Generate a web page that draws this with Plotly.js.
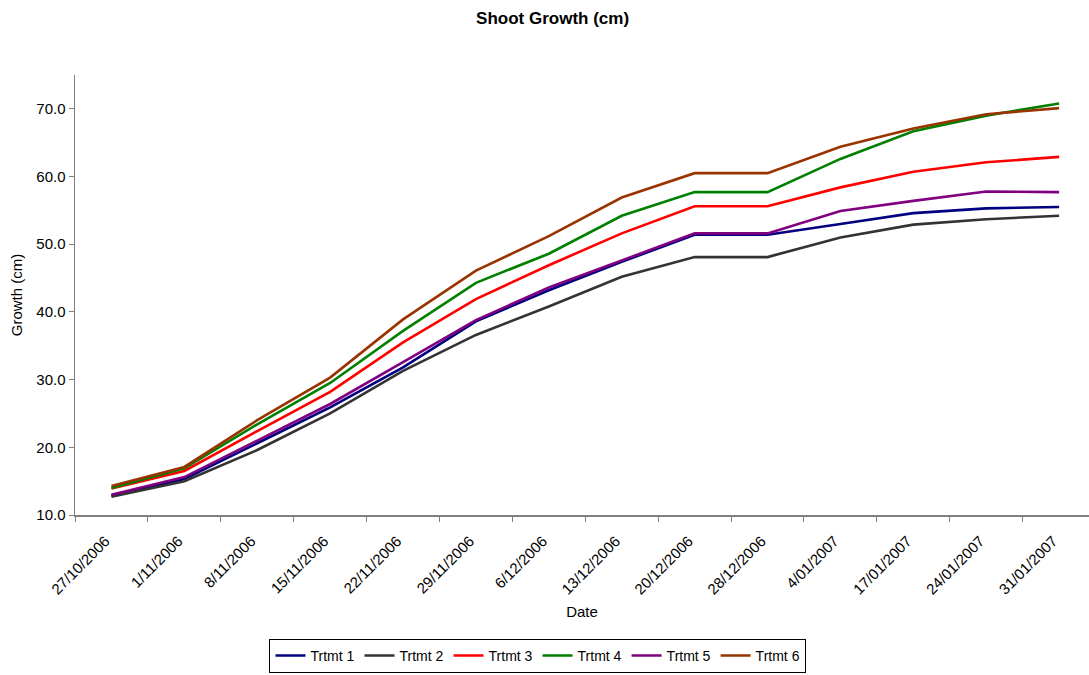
<!DOCTYPE html>
<html>
<head>
<meta charset="utf-8">
<script src="https://cdn.plot.ly/plotly-3.0.1.min.js"></script>
<style>html,body{margin:0;padding:0;background:#fff;}#chart{width:1089px;height:675px;}</style>
</head>
<body>
<div id="chart"></div>
<script>
const dates = ["27/10/2006","1/11/2006","8/11/2006","15/11/2006","22/11/2006","29/11/2006","6/12/2006","13/12/2006","20/12/2006","28/12/2006","4/01/2007","17/01/2007","24/01/2007","31/01/2007"];
const trtmt1 = [12.9, 15.3, 20.6, 25.9, 31.8, 38.6, 43.2, 47.4, 51.4, 51.4, 53.0, 54.6, 55.3, 55.5];
const trtmt2 = [12.7, 15.0, 19.6, 25.0, 31.3, 36.6, 40.8, 45.2, 48.1, 48.1, 51.0, 52.9, 53.7, 54.2];
const trtmt3 = [13.9, 16.5, 22.4, 28.2, 35.5, 41.9, 46.9, 51.6, 55.6, 55.6, 58.4, 60.7, 62.1, 62.9];
const trtmt4 = [14.0, 16.9, 23.4, 29.5, 37.2, 44.3, 48.6, 54.2, 57.7, 57.7, 62.6, 66.7, 69.0, 70.8];
const trtmt5 = [13.0, 15.6, 21.0, 26.4, 32.6, 38.8, 43.6, 47.6, 51.6, 51.6, 54.9, 56.4, 57.8, 57.7];
const trtmt6 = [14.3, 17.1, 24.0, 30.3, 38.9, 46.1, 51.2, 56.9, 60.5, 60.5, 64.4, 67.1, 69.2, 70.1];
const names = ["Trtmt 1","Trtmt 2","Trtmt 3","Trtmt 4","Trtmt 5","Trtmt 6"];
const series = [trtmt1, trtmt2, trtmt3, trtmt4, trtmt5, trtmt6];
const colors = ["#000080","#333333","#FF0000","#008000","#800080","#993300"];
const yTicks = [10, 20, 30, 40, 50, 60, 70];
const yTickText = ["10.0","20.0","30.0","40.0","50.0","60.0","70.0"];

const font = "Liberation Sans, Arial, sans-serif";
const traces = series.map((s, i) => ({
  type: "scatter", mode: "lines", x: dates, y: s, name: names[i],
  line: {color: colors[i], width: 2.6}
}));

const layout = {
  width: 1089, height: 675,
  margin: {l: 75, r: 0, t: 75, b: 160},
  paper_bgcolor: "#fff", plot_bgcolor: "#fff",
  font: {family: font, size: 15, color: "#000"},
  title: {text: "<b>Shoot Growth (cm)</b>", font: {family: font, size: 17, color: "#000"}, x: 0.471, xref: "paper", xanchor: "center", y: 0.973, yanchor: "middle"},
  showlegend: true,
  legend: {orientation: "h", x: 0.4566, xanchor: "center", yref: "container", y: 0.003, yanchor: "bottom",
    bordercolor: "#000", borderwidth: 1, font: {family: font, size: 14, color: "#000"},
    itemwidth: 30, traceorder: "normal"},
  xaxis: {
    type: "category", range: [-0.5, 13.41], tickson: "boundaries", automargin: false,
    ticks: "outside", ticklen: 5, tickcolor: "#808080", tickwidth: 1, ticklabelstandoff: 10, ticklabelshift: -6,
    showline: true, linecolor: "#808080", linewidth: 1.5, showgrid: false, zeroline: false,
    tickangle: -45, tickfont: {family: font, size: 15, color: "#000"},
    title: {text: "Date", font: {family: font, size: 15, color: "#000"}, standoff: 10}
  },
  yaxis: {
    range: [10, 75], tickvals: yTicks, ticktext: yTickText, automargin: false,
    ticks: "outside", ticklen: 5, tickcolor: "#808080", tickwidth: 1,
    showline: true, linecolor: "#808080", linewidth: 1.5, showgrid: false, zeroline: false,
    tickfont: {family: font, size: 15, color: "#000"},
    title: {text: "Growth (cm)", font: {family: font, size: 15, color: "#000"}, standoff: 10}
  }
};
Plotly.newPlot("chart", traces, layout, {staticPlot: true, displayModeBar: false});
</script>
</body>
</html>
